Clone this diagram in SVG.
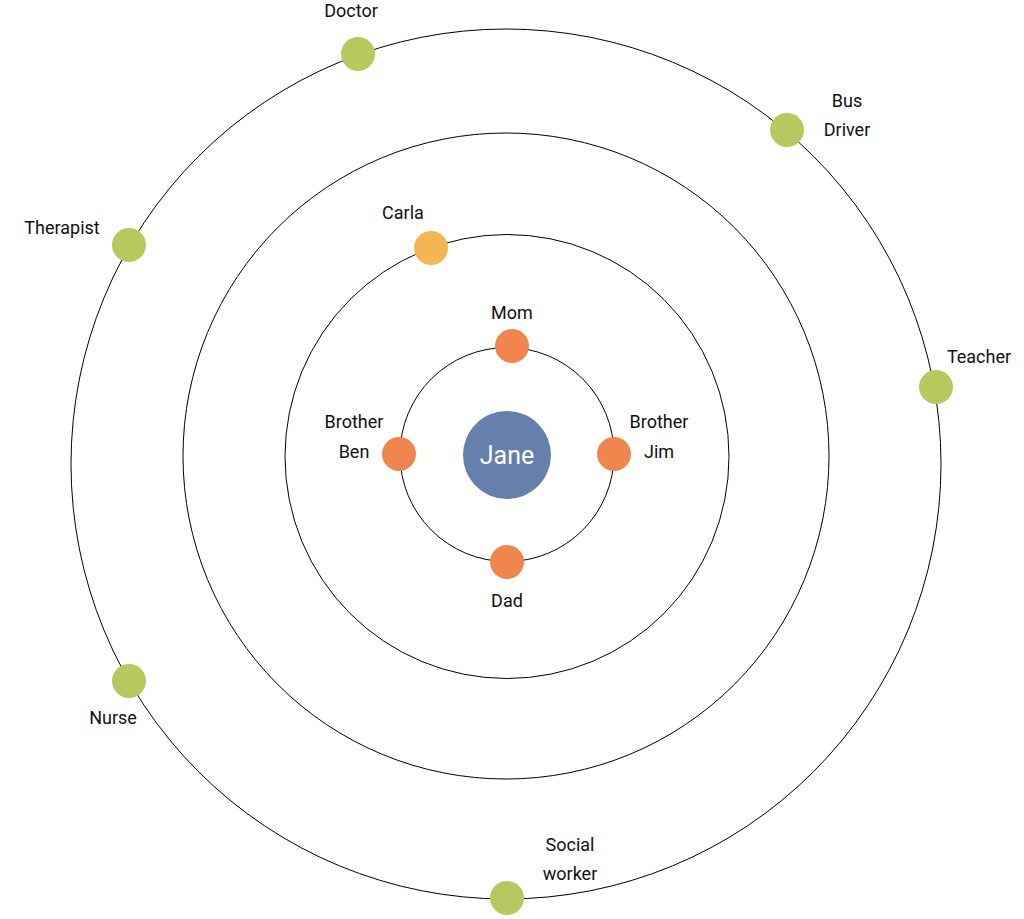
<svg xmlns="http://www.w3.org/2000/svg" width="1024" height="919" viewBox="0 0 1024 919">
<style>
.ring{fill:none;stroke:#000;stroke-width:1}
.g{fill:#b5c95e}.o{fill:#f0854e}.y{fill:#f6b553}
text{font-family:Roboto,"Liberation Sans",sans-serif;font-size:18px;fill:#111;text-anchor:middle}
</style>
<rect width="1024" height="919" fill="#fff"/>
<g id="connectors">
<circle class="ring" cx="506" cy="464" r="435"/>
<circle class="ring" cx="506" cy="456" r="323"/>
<circle class="ring" cx="507" cy="456.5" r="222"/>
<circle class="ring" cx="507" cy="454.5" r="107"/>
</g>
<g id="jane"><circle cx="507" cy="455" r="44" fill="#6580ad"/><text x="507" y="464" style="font-size:25px;fill:#fff">Jane</text></g>
<g id="mom"><circle class="o" cx="512" cy="346" r="17"/><text x="512" y="319">Mom</text></g>
<g id="dad"><circle class="o" cx="507" cy="562" r="17"/><text x="507" y="607">Dad</text></g>
<g id="ben"><circle class="o" cx="399" cy="454" r="17"/><text x="354" y="428">Brother</text><text x="354" y="458">Ben</text></g>
<g id="jim"><circle class="o" cx="614" cy="454" r="17"/><text x="659" y="428">Brother</text><text x="659" y="458">Jim</text></g>
<g id="carla"><circle class="y" cx="431" cy="248" r="17"/><text x="403" y="219">Carla</text></g>
<g id="doctor"><circle class="g" cx="358" cy="54" r="17"/><text x="351" y="17">Doctor</text></g>
<g id="busdriver"><circle class="g" cx="787" cy="130" r="17"/><text x="847" y="107">Bus</text><text x="847" y="136">Driver</text></g>
<g id="therapist"><circle class="g" cx="129" cy="245" r="17"/><text x="62" y="234">Therapist</text></g>
<g id="teacher"><circle class="g" cx="936" cy="387" r="17"/><text x="979" y="363">Teacher</text></g>
<g id="nurse"><circle class="g" cx="129" cy="681" r="17"/><text x="113" y="724">Nurse</text></g>
<g id="social"><circle class="g" cx="507" cy="898" r="17"/><text x="570" y="851">Social</text><text x="570" y="880">worker</text></g>
</svg>
